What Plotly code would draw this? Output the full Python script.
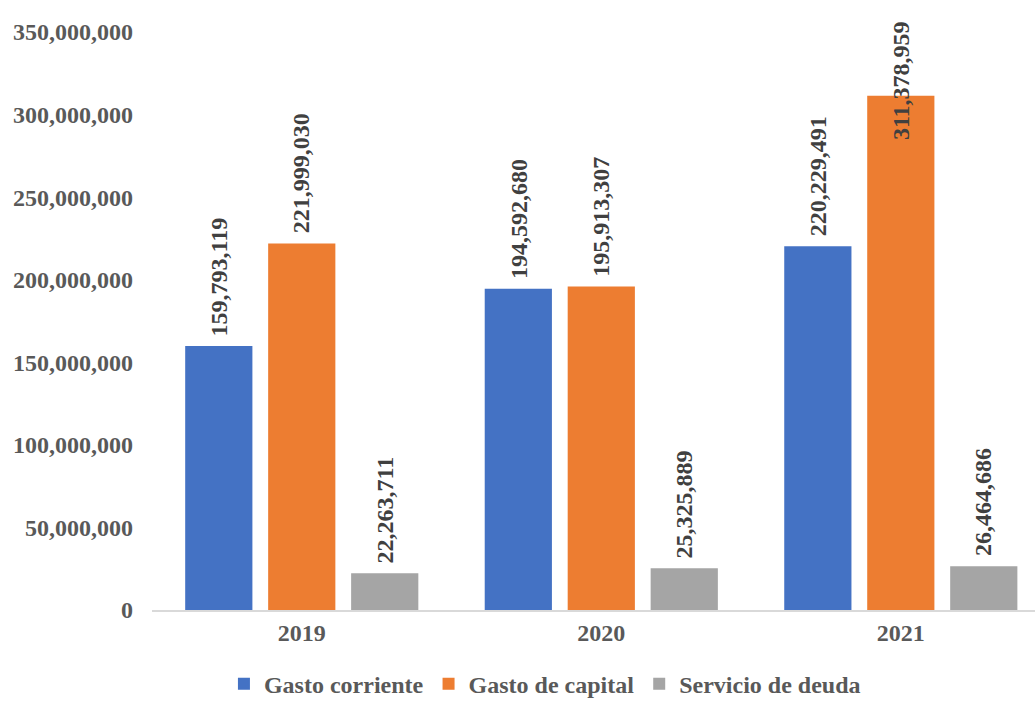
import plotly.graph_objects as go

years = ["2019", "2020", "2021"]
series_names = ["Gasto corriente", "Gasto de capital", "Servicio de deuda"]
gasto_corriente = [159793119, 194592680, 220229491]
gasto_capital = [221999030, 195913307, 311378959]
servicio_deuda = [22263711, 25325889, 26464686]
colors = ["#4472C4", "#ED7D31", "#A5A5A5"]
tick_vals = [0, 50000000, 100000000, 150000000, 200000000, 250000000, 300000000, 350000000]

FONT = "Liberation Serif"
all_series = [gasto_corriente, gasto_capital, servicio_deuda]

fig = go.Figure()
for name, vals, col in zip(series_names, all_series, colors):
    fig.add_trace(go.Bar(x=years, y=vals, name=f"<b>{name}</b>",
                         marker=dict(color=col, line=dict(width=0))))

slot = (1 - 0.169) / 3
annotations = []
for si, vals in enumerate(all_series):
    off = (si - 1) * slot
    for ci, v in enumerate(vals):
        shift = 8
        if v > 300000000:
            shift = -46
        annotations.append(dict(
            x=ci + off, y=v, xref="x", yref="y", text=f"<b>{v:,}</b>", showarrow=False,
            textangle=-90, yanchor="bottom", xanchor="center", yshift=shift,
            font=dict(family=FONT, size=24, color="#404040")))

fig.update_layout(
    width=1035, height=701,
    margin=dict(l=152, r=0, t=32, b=91, autoexpand=False),
    paper_bgcolor="white", plot_bgcolor="white",
    barmode="group", bargap=0.169, bargroupgap=0.19,
    font=dict(family=FONT, size=24, color="#595959"),
    showlegend=True,
    legend=dict(orientation="h", x=0.445, xanchor="center", yref="container", y=0.024,
                yanchor="middle",
                font=dict(family=FONT, size=24, color="#595959"),
                itemwidth=30, traceorder="normal"),
    annotations=annotations,
)
fig.update_xaxes(type="category", range=[-0.5, 2.448], showline=True, linecolor="#D9D9D9",
                 linewidth=2, ticks="", showgrid=False, automargin=False,
                 tickvals=years, ticktext=[f"<b>{y}</b>" for y in years],
                 tickfont=dict(family=FONT, size=24, color="#595959"))
fig.update_yaxes(range=[0, 350000000], tickvals=tick_vals,
                 ticktext=[f"<b>{v:,}</b>" for v in tick_vals], showgrid=False,
                 zeroline=False, showline=False, ticks="", ticklabelstandoff=18, automargin=False,
                 tickfont=dict(family=FONT, size=24, color="#595959"))

fig.write_html("out.html", config={"displayModeBar": False},
               post_script="document.body.style.margin='0';")
